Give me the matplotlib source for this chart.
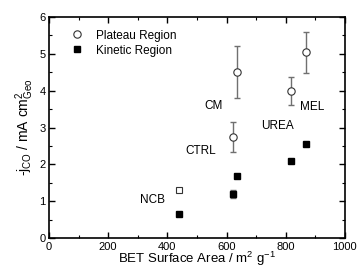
import matplotlib
matplotlib.use("Agg")
import matplotlib.pyplot as plt
from matplotlib.ticker import MultipleLocator

plt.rcParams['font.family'] = ['Liberation Sans', 'DejaVu Sans']
plt.rcParams['mathtext.fontset'] = 'custom'
plt.rcParams['mathtext.rm'] = 'Liberation Sans'
plt.rcParams['mathtext.it'] = 'Liberation Sans:italic'

samples = ["NCB", "CTRL", "CM", "UREA", "MEL"]
bet_plateau = [441, 623, 635, 817, 870]
plateau = [1.30, 2.74, 4.50, 3.99, 5.04]
plateau_err = [0.0, 0.40, 0.70, 0.38, 0.55]
bet_kinetic = [441, 623, 634, 819, 870]
kinetic = [0.65, 1.20, 1.68, 2.09, 2.55]
kinetic_err = [0.0, 0.10, 0.0, 0.0, 0.0]
label_x = [350, 514, 557, 771, 890]
label_y = [1.03, 2.35, 3.59, 3.04, 3.55]

fig = plt.figure(figsize=(3.6, 2.69), dpi=100)
ax = fig.add_axes([0.136, 0.115, 0.822, 0.822])

ax.errorbar(bet_plateau[1:], plateau[1:], yerr=plateau_err[1:], fmt='none',
            ecolor='#707070', elinewidth=1.0, capsize=2.3, capthick=1.0, zorder=1)
ax.errorbar(bet_kinetic, kinetic, yerr=kinetic_err, fmt='none',
            ecolor='#707070', elinewidth=1.0, capsize=2.3, capthick=1.0, zorder=1)

ax.plot(bet_plateau[:1], plateau[:1], linestyle='none', marker='s', ms=4.8,
        mfc='white', mec='#333333', mew=0.8, zorder=3)
ax.plot(bet_plateau[1:], plateau[1:], linestyle='none', marker='o', ms=5.3,
        mfc='white', mec='#333333', mew=0.8, zorder=3, label='Plateau Region')
ax.plot(bet_kinetic, kinetic, linestyle='none', marker='s', ms=4.6,
        color='black', zorder=3, label='Kinetic Region')

for s, lx, ly in zip(samples, label_x, label_y):
    ax.text(lx, ly, s, ha='center', va='center', fontsize=8.5)

ax.set_xlim(0, 1000)
ax.set_ylim(0, 6)
ax.xaxis.set_major_locator(MultipleLocator(200))
ax.xaxis.set_minor_locator(MultipleLocator(100))
ax.yaxis.set_major_locator(MultipleLocator(1))
ax.yaxis.set_minor_locator(MultipleLocator(0.5))
ax.tick_params(which='both', direction='in', top=True, right=True, labelsize=8)
ax.tick_params(which='major', length=4, width=1, pad=2.5)
ax.tick_params(which='minor', length=2.5, width=0.8)
for sp in ax.spines.values():
    sp.set_linewidth(1.2)

ax.set_xlabel('BET Surface Area / m$^{2}$ g$^{-1}$', fontsize=9.5, labelpad=-1)
ax.set_ylabel(r'-j$_{\mathrm{CO}}$ / mA cm$^{2}_{\mathrm{Geo}}$', fontsize=10, labelpad=2)

ax.legend(loc='upper left', fontsize=8.5, frameon=False, handletextpad=0.9,
          borderaxespad=0.2, labelspacing=0.25, handlelength=1.5,
          bbox_to_anchor=(0.04, 0.975))

fig.savefig('out.png', dpi=100)
